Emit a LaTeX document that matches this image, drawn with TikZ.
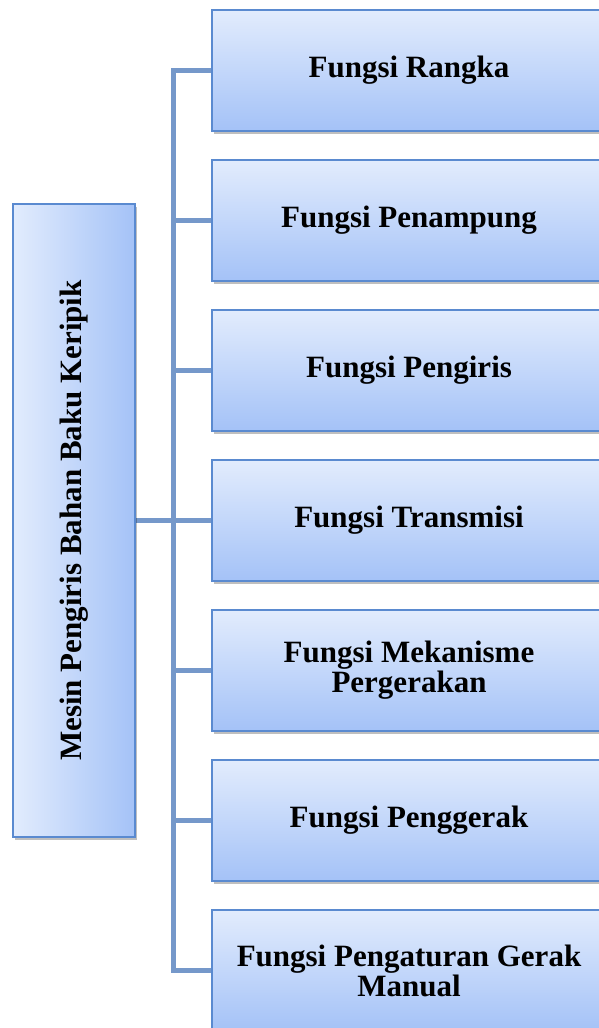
\documentclass[tikz,border=0pt]{standalone}
\usepackage{fontspec}
\setmainfont{Liberation Serif}
\usetikzlibrary{positioning, shadows, backgrounds}
\hyphenpenalty=10000
\definecolor{boxedge}{HTML}{5A8AD0}
\definecolor{boxlight}{HTML}{E2ECFD}
\definecolor{boxdark}{HTML}{A4C2F7}
\definecolor{linkblue}{HTML}{7598CA}
\tikzset{
  boxshadow/.style = {drop shadow={shadow xshift=2pt, shadow yshift=-3pt,
                      opacity=0.25, fill=black}},
  rootbox/.style   = {rectangle, draw=boxedge, line width=1.5pt,
                      left color=boxlight, right color=boxdark,
                      minimum width=122pt, minimum height=633pt, inner sep=0pt, boxshadow},
  funcbox/.style   = {rectangle, draw=boxedge, line width=1.5pt,
                      top color=boxlight, bottom color=boxdark,
                      minimum width=394pt, minimum height=121pt, text width=380pt,
                      align=flush center, inner sep=0pt, boxshadow,
                      font=\fontsize{31}{30}\selectfont\bfseries},
  rootlabel/.style = {rotate=90, font=\fontsize{31}{31}\selectfont\bfseries},
  branch/.style    = {draw=linkblue, line width=5pt, line cap=rect},
}
\begin{document}
\begin{tikzpicture}[x=1pt, y=1pt, node distance=27.5pt]
  \useasboundingbox (0,0) rectangle (598,-1028);

  % root
  \node[rootbox, label={[rootlabel]center:Mesin Pengiris Bahan Baku Keripik}]
    (mesin) at (74,-520.5) {};

  % functions
  \node[funcbox] (rangka) at (409,-70.5) {Fungsi Rangka};
  \node[funcbox, below=of rangka] (penampung) {Fungsi Penampung};
  \node[funcbox, below=of penampung] (pengiris) {Fungsi Pengiris};
  \node[funcbox, below=of pengiris] (transmisi) {Fungsi Transmisi};
  \node[funcbox, below=of transmisi] (mekanisme) {Fungsi Mekanisme Pergerakan};
  \node[funcbox, below=of mekanisme] (penggerak) {Fungsi Penggerak};
  \node[funcbox, below=of penggerak] (manual) {Fungsi Pengaturan Gerak Manual};

  % connectors
  \coordinate (trunk) at (173,0);
  \begin{scope}[on background layer]
    \draw[branch] (rangka.west) -- (trunk |- rangka) -- (trunk |- manual) -- (manual.west);
    \draw[branch] (mesin.east) -- (trunk |- mesin);
    \draw[branch] (trunk |- penampung) -- (penampung.west);
    \draw[branch] (trunk |- pengiris) -- (pengiris.west);
    \draw[branch] (trunk |- transmisi) -- (transmisi.west);
    \draw[branch] (trunk |- mekanisme) -- (mekanisme.west);
    \draw[branch] (trunk |- penggerak) -- (penggerak.west);
  \end{scope}
\end{tikzpicture}
\end{document}
